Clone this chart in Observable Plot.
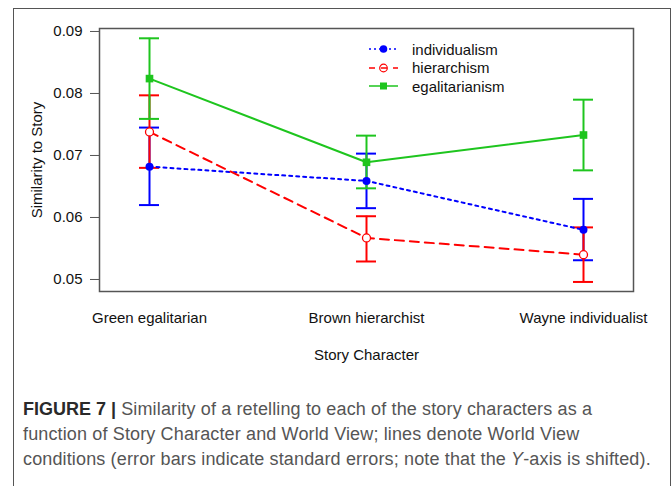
<!DOCTYPE html>
<html>
<head>
<meta charset="utf-8">
<script src="https://cdn.jsdelivr.net/npm/d3@7"></script>
<script src="https://cdn.jsdelivr.net/npm/@observablehq/plot@0.6"></script>
<style>
  html, body { margin: 0; padding: 0; background: #fff; }
  #wrap { position: relative; width: 672px; height: 486px; overflow: hidden; }
  #outer { position: absolute; left: 13px; top: 8px; width: 658px; height: 600px;
           border: 1.5px solid #555; box-sizing: border-box; }
  #chart { position: absolute; left: 0; top: 0; }
  #legend { position: absolute; left: 368px; top: 40px; font-family: "Liberation Sans", Arial, sans-serif;
            font-size: 15px; color: #111; }
  .row { display: flex; align-items: center; height: 18.5px; }
  .row svg { margin-right: 13px; }
  #caption { position: absolute; left: 23px; top: 397px; white-space: nowrap;
             letter-spacing: 0.14px;
             font-family: "Liberation Sans", Arial, sans-serif;
             font-size: 18px; line-height: 25px; color: #555; }
  #caption b { color: #2a2a2a; letter-spacing: 0; }
</style>
</head>
<body>
<div id="wrap">
  <div id="outer"></div>
  <div id="chart"></div>
  <div id="legend"></div>
  <div id="caption"><b>FIGURE 7 |</b> Similarity of a retelling to each of the story characters as a<br>function of Story Character and World View; lines denote World View<br>conditions (error bars indicate standard errors; note that the <i>Y</i>-axis is shifted).</div>
</div>
<script>
// ---- data ----
const characters = ["Green egalitarian", "Brown hierarchist", "Wayne individualist"];
const seriesNames = ["individualism", "hierarchism", "egalitarianism"];
const yTicks = [0.05, 0.06, 0.07, 0.08, 0.09];

const individualismMean = [0.0682, 0.0659, 0.0580];
const individualismLow  = [0.0620, 0.0615, 0.0531];
const individualismHigh = [0.0745, 0.0703, 0.0630];

const hierarchismMean = [0.0738, 0.0567, 0.0540];
const hierarchismLow  = [0.0680, 0.0529, 0.0496];
const hierarchismHigh = [0.0797, 0.0602, 0.0584];

const egalitarianismMean = [0.0824, 0.0689, 0.0733];
const egalitarianismLow  = [0.0759, 0.0647, 0.0676];
const egalitarianismHigh = [0.0889, 0.0732, 0.0790];

// ---- styles ----
const colors = {individualism: "#0000ff", hierarchism: "#ff0000", egalitarianism: "#1ec51e"};
const dashes = {individualism: "3,4", hierarchism: "9,6", egalitarianism: null};

const table = [];
const src = {
  individualism: [individualismMean, individualismLow, individualismHigh],
  hierarchism: [hierarchismMean, hierarchismLow, hierarchismHigh],
  egalitarianism: [egalitarianismMean, egalitarianismLow, egalitarianismHigh]
};
for (const s of seriesNames) {
  const [m, lo, hi] = src[s];
  characters.forEach((c, i) => table.push({series: s, character: c, mean: m[i], low: lo[i], high: hi[i]}));
}
const bySeries = s => table.filter(d => d.series === s);

const marks = [];
// error bars (drawn in series order)
for (const s of seriesNames) {
  const data = bySeries(s);
  marks.push(Plot.ruleX(data, {x: "character", y1: "low", y2: "high", stroke: colors[s], strokeWidth: 2}));
  for (const k of ["low", "high"]) {
    marks.push(Plot.ruleY(data, {x1: "character", x2: "character", y: k, stroke: colors[s], strokeWidth: 2,
      insetLeft: -10, insetRight: -10}));
  }
}
// lines
for (const s of seriesNames) {
  marks.push(Plot.line(bySeries(s), {x: "character", y: "mean", stroke: colors[s], strokeWidth: 2,
    strokeDasharray: dashes[s] || undefined}));
}
// points
marks.push(Plot.dot(bySeries("individualism"), {x: "character", y: "mean", r: 4, fill: colors.individualism, stroke: "none"}));
marks.push(Plot.dot(bySeries("hierarchism"), {x: "character", y: "mean", r: 4, fill: "white", stroke: colors.hierarchism, strokeWidth: 1.3}));
marks.push(Plot.dot(bySeries("egalitarianism"), {x: "character", y: "mean", r: 4.3, symbol: "square", fill: colors.egalitarianism, stroke: "none"}));

const chart = Plot.plot({
  width: 672,
  height: 380,
  marginLeft: 99,
  marginRight: 39,
  marginTop: 28,
  marginBottom: 89,
  style: {fontFamily: "'Liberation Sans', Arial, sans-serif", fontSize: "15px", background: "transparent", color: "#111", overflow: "visible"},
  x: {type: "point", domain: characters, padding: 0.225, axis: null},
  y: {domain: [0.04806, 0.09048], axis: null},
  marks: [
    Plot.axisY({ticks: yTicks, tickFormat: d3.format(".2f"), tickSize: 9, tickPadding: 8, label: null, stroke: "#555"}),
    Plot.axisX({tickSize: 0, tickPadding: 21, label: null}),
    Plot.text(["Similarity to Story"], {frameAnchor: "left", textAnchor: "middle", rotate: -90, dx: -62}),
    Plot.text(["Story Character"], {frameAnchor: "bottom", lineAnchor: "middle", dy: 64}),
    ...marks,
    Plot.frame({stroke: "#555", strokeWidth: 1.5})
  ]
});
document.getElementById("chart").appendChild(chart);

// ---- legend ----
const legend = d3.select("#legend");
for (const s of seriesNames) {
  const row = legend.append("div").attr("class", "row");
  const svg = row.append("svg").attr("width", 31).attr("height", 14);
  svg.append("line").attr("x1", 1).attr("x2", 30).attr("y1", 7).attr("y2", 7)
    .attr("stroke", colors[s]).attr("stroke-width", 1.5)
    .attr("stroke-dasharray", s === "individualism" ? "2,3" : s === "hierarchism" ? "6,6" : null);
  if (s === "individualism") svg.append("circle").attr("cx", 15.5).attr("cy", 7).attr("r", 3.8).attr("fill", colors[s]);
  if (s === "hierarchism") svg.append("circle").attr("cx", 15.5).attr("cy", 7).attr("r", 3.8).attr("fill", "none").attr("stroke", colors[s]).attr("stroke-width", 1.2);
  if (s === "egalitarianism") svg.append("rect").attr("x", 12).attr("y", 3.5).attr("width", 7).attr("height", 7).attr("fill", colors[s]);
  row.append("span").text(s);
}
</script>
</body>
</html>
